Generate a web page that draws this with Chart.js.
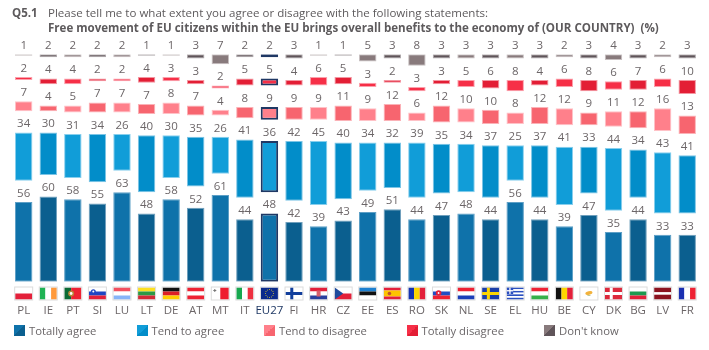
<!DOCTYPE html>
<html>
<head>
<meta charset="utf-8">
<script src="https://cdn.jsdelivr.net/npm/chart.js@4"></script>
<style>
  html, body { margin: 0; padding: 0; background: #fff; }
  #wrap { position: relative; width: 709px; height: 350px; overflow: hidden; font-family: "Open Sans", sans-serif; color: #5d5a5c; }
  canvas { position: absolute; left: 0; top: 0; }
  .t { position: absolute; white-space: nowrap; font-size: 11.55px; line-height: 16px; }
  .b { font-weight: 700; }
  .lg { position: absolute; top: 325px; height: 11px; width: 11px; }
  .lt { position: absolute; top: 323px; font-size: 11.3px; line-height: 16px; white-space: nowrap; color: #6a6668; }
</style>
</head>
<body>
<div id="wrap">
  <canvas id="chart" width="709" height="350"></canvas>
  <div class="t b" style="left:12px;top:5px">Q5.1</div>
  <div class="t" style="left:48px;top:5px">Please tell me to what extent you agree or disagree with the following statements:</div>
  <div class="t b" style="left:48px;top:20px">Free movement of EU citizens within the EU brings overall benefits to the economy of (OUR COUNTRY)&nbsp; (%)</div>
  <div id="legend"></div>
</div>
<script>
const countries = ["PL", "IE", "PT", "SI", "LU", "LT", "DE", "AT", "MT", "IT", "EU27", "FI", "HR", "CZ",
  "EE", "ES", "RO", "SK", "NL", "SE", "EL", "HU", "BE", "CY", "DK", "BG", "LV", "FR"];

const totallyAgree = [56, 60, 58, 55, 63, 48, 58, 52, 61, 44, 48, 42, 39, 43, 49, 51, 44, 47, 48, 44, 56, 44, 39, 47, 35, 44, 33, 33];
const tendToAgree = [34, 30, 31, 34, 26, 40, 30, 35, 26, 41, 36, 42, 45, 40, 34, 32, 39, 35, 34, 37, 25, 37, 41, 33, 44, 34, 43, 41];
const tendToDisagree = [7, 4, 5, 7, 7, 7, 8, 7, 4, 8, 9, 9, 9, 11, 9, 12, 6, 12, 10, 10, 8, 12, 12, 9, 11, 12, 16, 13];
const totallyDisagree = [2, 4, 4, 2, 2, 4, 3, 3, 2, 5, 5, 4, 6, 5, 3, 2, 3, 3, 5, 6, 8, 4, 6, 8, 6, 7, 6, 10];
const dontKnow = [1, 2, 2, 2, 2, 1, 1, 3, 7, 2, 2, 3, 1, 1, 5, 3, 8, 3, 3, 3, 3, 3, 2, 3, 4, 3, 2, 3];

const seriesNames = ["Totally agree", "Tend to agree", "Tend to disagree", "Totally disagree", "Don't know"];
const seriesValues = [totallyAgree, tendToAgree, tendToDisagree, totallyDisagree, dontKnow];

// light / dark alternate from one country to the next
const fills = [["#0f72aa", "#0b5f8f"], ["#119dd8", "#028dc9"], ["#ff808b", "#f7656f"], ["#f62f47", "#e31e35"], ["#887a7c", "#5f5459"]];
const edges = [["#5d9fc6", "#6f9fbc"], ["#88cfed", "#7cc5e6"], ["#ffc2c7", "#fbb2b7"], ["#fba0ab", "#f396a1"], ["#c7bfc0", "#aea8ab"]];
const legendX = [14, 136.5, 264, 406.5, 544];
const euIndex = countries.indexOf("EU27");
const navy = "#1f3864";
const gapUnits = 15;

// each band floats above the previous one with a fixed white gap
const offsets = countries.map(() => 0);
const datasets = seriesValues.map((values, s) => {
  const data = values.map((v, i) => {
    const range = [offsets[i], offsets[i] + v];
    offsets[i] += v + gapUnits;
    return range;
  });
  return {
    label: seriesNames[s],
    data: data,
    grouped: false,
    backgroundColor: (c) => fills[s][c.dataIndex % 2],
    borderColor: (c) => (c.dataIndex === euIndex ? navy : edges[s][c.dataIndex % 2]),
    borderWidth: (c) => (c.dataIndex === euIndex ? 2 : 1),
    borderSkipped: false,
  };
});

const valueLabels = {
  id: "valueLabels",
  afterDatasetsDraw(chart) {
    const ctx = chart.ctx;
    ctx.save();
    ctx.font = '11.5px "Open Sans"';
    ctx.fillStyle = "#6c6668";
    ctx.textAlign = "center";
    ctx.textBaseline = "middle";
    seriesValues.forEach((values, s) => {
      chart.getDatasetMeta(s).data.forEach((bar, i) => {
        ctx.fillText(values[i], bar.x, bar.y - 8.5);
      });
    });
    ctx.restore();
  },
};

function hBands(ctx, x, y, w, h, colors, parts) {
  const total = parts ? parts.reduce((a, b) => a + b, 0) : colors.length;
  let top = y;
  colors.forEach((c, i) => {
    const bh = (h * (parts ? parts[i] : 1)) / total;
    ctx.fillStyle = c;
    ctx.fillRect(x, top, w, bh);
    top += bh;
  });
}

function vBands(ctx, x, y, w, h, colors, parts) {
  const total = parts ? parts.reduce((a, b) => a + b, 0) : colors.length;
  let left = x;
  colors.forEach((c, i) => {
    const bw = (w * (parts ? parts[i] : 1)) / total;
    ctx.fillStyle = c;
    ctx.fillRect(left, y, bw, h);
    left += bw;
  });
}

function cross(ctx, x, y, w, h, bg, fg) {
  ctx.fillStyle = bg;
  ctx.fillRect(x, y, w, h);
  ctx.fillStyle = fg;
  ctx.fillRect(x + w * 0.28, y, 3, h);
  ctx.fillRect(x, y + h / 2 - 1.5, w, 3);
}

function dot(ctx, x, y, w, h, fx, fy, r, color) {
  ctx.fillStyle = color;
  ctx.beginPath();
  ctx.arc(x + w * fx, y + h * fy, r, 0, Math.PI * 2);
  ctx.fill();
}

const flagDraw = {
  PL: (c, x, y, w, h) => hBands(c, x, y, w, h, ["#fff", "#e3203a"]),
  IE: (c, x, y, w, h) => vBands(c, x, y, w, h, ["#1fb254", "#fff", "#ff9a3c"]),
  PT: (c, x, y, w, h) => {
    vBands(c, x, y, w, h, ["#0b6b35", "#ee2233"], [2, 3]);
    dot(c, x, y, w, h, 0.4, 0.5, 3, "#b9853a");
    dot(c, x, y, w, h, 0.4, 0.5, 1.4, "#fff");
  },
  SI: (c, x, y, w, h) => {
    hBands(c, x, y, w, h, ["#fff", "#1f45c4", "#e3203a"]);
    dot(c, x, y, w, h, 0.26, 0.36, 2.5, "#1f45c4");
    dot(c, x, y, w, h, 0.26, 0.34, 1, "#fff");
  },
  LU: (c, x, y, w, h) => hBands(c, x, y, w, h, ["#f2505f", "#fff", "#86b4f8"]),
  LT: (c, x, y, w, h) => hBands(c, x, y, w, h, ["#fde021", "#2c9a46", "#d42a36"]),
  DE: (c, x, y, w, h) => hBands(c, x, y, w, h, ["#111", "#dd1f26", "#ffce00"]),
  AT: (c, x, y, w, h) => hBands(c, x, y, w, h, ["#ee2233", "#fff", "#ee2233"]),
  MT: (c, x, y, w, h) => {
    vBands(c, x, y, w, h, ["#fff", "#ee1c2e"]);
    c.fillStyle = "#777";
    c.fillRect(x + 2.5, y + 1.5, 1, 3);
    c.fillRect(x + 1.5, y + 2.5, 3, 1);
  },
  IT: (c, x, y, w, h) => vBands(c, x, y, w, h, ["#17a84f", "#fff", "#ee3040"]),
  EU27: (c, x, y, w, h) => {
    c.fillStyle = "#0a2a8c";
    c.fillRect(x, y, w, h);
    for (let k = 0; k < 12; k++) {
      const a = (k * Math.PI) / 6;
      c.fillStyle = "#d9c431";
      c.fillRect(x + w / 2 + Math.cos(a) * 4 - 0.4, y + h / 2 + Math.sin(a) * 4 - 0.4, 0.9, 0.9);
    }
  },
  FI: (c, x, y, w, h) => cross(c, x, y, w, h, "#fff", "#123f9c"),
  HR: (c, x, y, w, h) => {
    hBands(c, x, y, w, h, ["#e3203a", "#fff", "#2a3f9e"]);
    c.fillStyle = "#d8606c";
    c.fillRect(x + w / 2 - 2, y + 3, 4, 6);
  },
  CZ: (c, x, y, w, h) => {
    hBands(c, x, y, w, h, ["#fff", "#e3203a"]);
    c.fillStyle = "#1f4a9c";
    c.beginPath();
    c.moveTo(x, y);
    c.lineTo(x + w / 2, y + h / 2);
    c.lineTo(x, y + h);
    c.fill();
  },
  EE: (c, x, y, w, h) => hBands(c, x, y, w, h, ["#1d80d0", "#111", "#fff"]),
  ES: (c, x, y, w, h) => {
    hBands(c, x, y, w, h, ["#e3203a", "#fdc400", "#e3203a"], [1, 2, 1]);
    dot(c, x, y, w, h, 0.33, 0.5, 1.8, "#c0522a");
  },
  RO: (c, x, y, w, h) => vBands(c, x, y, w, h, ["#1533b0", "#fdd600", "#e3203a"]),
  SK: (c, x, y, w, h) => {
    hBands(c, x, y, w, h, ["#fff", "#1f4ec4", "#ee2233"]);
    dot(c, x, y, w, h, 0.33, 0.46, 2.8, "#e3203a");
    dot(c, x, y, w, h, 0.33, 0.46, 0.9, "#fff");
  },
  NL: (c, x, y, w, h) => hBands(c, x, y, w, h, ["#ee2233", "#fff", "#1c3fb8"]),
  SE: (c, x, y, w, h) => cross(c, x, y, w, h, "#1a3ea8", "#fdd600"),
  EL: (c, x, y, w, h) => {
    hBands(c, x, y, w, h, ["#2a4fc0", "#fff", "#2a4fc0", "#fff", "#2a4fc0", "#fff", "#2a4fc0"]);
    c.fillStyle = "#2a4fc0";
    c.fillRect(x, y, 6.5, 6.5);
    c.fillStyle = "#fff";
    c.fillRect(x + 2.6, y, 1.3, 6.5);
    c.fillRect(x, y + 2.6, 6.5, 1.3);
  },
  HU: (c, x, y, w, h) => hBands(c, x, y, w, h, ["#ee2233", "#fff", "#35b04a"]),
  BE: (c, x, y, w, h) => vBands(c, x, y, w, h, ["#111", "#fdd600", "#e3203a"]),
  CY: (c, x, y, w, h) => {
    c.fillStyle = "#fff";
    c.fillRect(x, y, w, h);
    c.fillStyle = "#f2b23c";
    c.beginPath();
    c.ellipse(x + w / 2, y + h / 2 - 0.5, 3.6, 1.8, -0.2, 0, Math.PI * 2);
    c.fill();
    c.fillStyle = "#b9c79a";
    c.fillRect(x + w / 2 - 1.5, y + h / 2 + 1.5, 3, 1);
  },
  DK: (c, x, y, w, h) => cross(c, x, y, w, h, "#dd2a3c", "#fff"),
  BG: (c, x, y, w, h) => hBands(c, x, y, w, h, ["#fff", "#1d9a50", "#e3203a"]),
  LV: (c, x, y, w, h) => hBands(c, x, y, w, h, ["#8c1420", "#fff", "#8c1420"], [2, 1, 2]),
  FR: (c, x, y, w, h) => vBands(c, x, y, w, h, ["#1a2fb0", "#fff", "#ee2233"]),
};

const flags = {
  id: "flags",
  afterDraw(chart) {
    const ctx = chart.ctx;
    const scale = chart.scales.x;
    const w = 17, h = 12, y = 287.5;
    ctx.save();
    countries.forEach((code, i) => {
      const x = scale.getPixelForValue(i) - w / 2;
      flagDraw[code](ctx, x, y, w, h);
      ctx.strokeStyle = "#dcdcdc";
      ctx.lineWidth = 1;
      ctx.strokeRect(x - 0.5, y - 0.5, w + 1, h + 1);
    });
    ctx.restore();
  },
};

new Chart(document.getElementById("chart"), {
  type: "bar",
  data: { labels: countries, datasets: datasets },
  plugins: [valueLabels, flags],
  options: {
    responsive: false,
    animation: false,
    layout: { padding: { left: 11.4, right: 9.5, top: 54.3, bottom: 0 } },
    plugins: { legend: { display: false }, tooltip: { enabled: false } },
    datasets: { bar: { barPercentage: 0.71, categoryPercentage: 1 } },
    scales: {
      x: {
        grid: { display: false },
        border: { display: false },
        afterFit: (scale) => { scale.height = 68.3; },
        ticks: {
          autoSkip: false,
          maxRotation: 0,
          padding: 14,
          font: { family: "Open Sans", size: 11.5 },
          color: (c) => (c.index === euIndex ? navy : "#6c6668"),
        },
      },
      y: { display: false, min: 0, max: 100 + 4 * gapUnits },
    },
  },
});

// legend swatches are split along the diagonal like the original
const legend = document.getElementById("legend");
seriesNames.forEach((name, s) => {
  const swatch = document.createElement("div");
  swatch.className = "lg";
  swatch.style.left = legendX[s] + "px";
  swatch.style.background = `linear-gradient(135deg, ${fills[s][0]} 50%, ${fills[s][1]} 50%)`;
  legend.appendChild(swatch);
  const text = document.createElement("div");
  text.className = "lt";
  text.style.left = legendX[s] + 15 + "px";
  text.textContent = name;
  legend.appendChild(text);
});
</script>
</body>
</html>
